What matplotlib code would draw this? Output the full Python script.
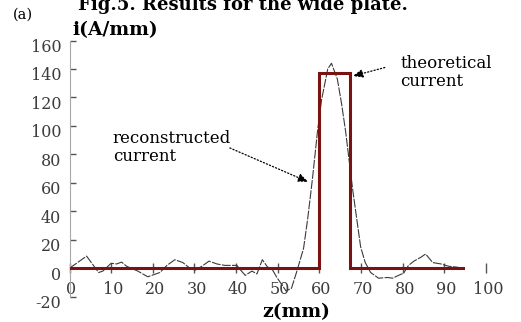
import numpy as np
import matplotlib
matplotlib.use('Agg')
import matplotlib.pyplot as plt
from matplotlib.transforms import ScaledTranslation

plt.rcParams['font.family'] = ['DejaVu Serif']
plt.rcParams['axes.unicode_minus'] = False

# theoretical current (step)
theo_z = [0, 59.8, 59.8, 67.3, 67.3, 94.5]
theo_i = [0, 0, 137, 137, 0, 0]

# reconstructed current
recon_z = [0, 4.1, 7, 8, 10, 11.3, 12.5, 13.7, 16.4, 18.8, 21.7, 23.4, 25.3, 27.2,
           28.9, 30.1, 31.8, 33.5, 35.4, 37.3, 40.2, 41, 42.2, 43.8, 45, 46.3, 47.5,
           48.7, 49.8, 52, 53.3, 54.6, 56.2, 57.2, 58.3, 59.5, 60.5, 62, 62.9, 64.3,
           65.3, 66.3, 68, 69.9, 71, 72.3, 74.2, 76.4, 77.6, 79, 80.2, 81.4, 82.7,
           84.3, 85.5, 87.2, 89.2, 91, 93.2, 94.5]
recon_i = [0, 8.5, -3, -2, 3.5, 3, 4.3, 1.4, -2, -6, -3, 2, 6, 4,
           0, -1.5, 1.4, 5, 3, 2, 2, -1, -5, -2, -4, 6, 1,
           -1, -6.5, -16, -14, -2, 14, 35, 62, 95, 118, 140, 144, 133,
           116, 96, 55, 15, 4, -3, -7, -6.5, -7, -5, -3.5, 2, 5,
           7.6, 10, 4, 3, 1.4, 0.7, -0.7]

xticks = [0, 10, 20, 30, 40, 50, 60, 70, 80, 90, 100]
yticks = [-20, 0, 20, 40, 60, 80, 100, 120, 140, 160]

W, H = 521, 322
fig = plt.figure(figsize=(W / 100, H / 100), dpi=100)
ax = fig.add_axes([69.5 / W, 25.3 / H, 416.5 / W, 256.2 / H])

ax.plot(recon_z, recon_i, color='#3a3a3a', lw=0.8, ls=(0, (8, 1.2)), zorder=2)
ax.plot(theo_z, theo_i, color='#7a1212', lw=2.2, solid_joinstyle='miter', zorder=3)

ax.set_xlim(0, 100)
ax.set_ylim(-20, 160)
ax.set_xticks(xticks)
ax.set_yticks(yticks)

for s in ['top', 'right']:
    ax.spines[s].set_visible(False)
ax.spines['left'].set_color('#a8a8a8')
ax.spines['bottom'].set_position(('data', 0))
ax.spines['bottom'].set_visible(False)

ax.tick_params(axis='y', direction='in', length=4, width=1, color='#555555',
               labelsize=11.5, pad=6, labelcolor='#3c3c3c')
ax.tick_params(axis='x', direction='inout', length=7, width=1, color='#555555',
               labelsize=11.5, pad=6, labelcolor='#3c3c3c')

# labels in the scan sit a little below their ticks
off = ScaledTranslation(0, -5 / 100, fig.dpi_scale_trans)
for lab in ax.get_yticklabels():
    lab.set_transform(lab.get_transform() + off)
offx = ScaledTranslation(2 / 100, 0, fig.dpi_scale_trans)
for lab in ax.get_xticklabels():
    lab.set_transform(lab.get_transform() + offx)

fig.text(72 / W, 1 - 30 / H, 'i(A/mm)', fontsize=13.5, fontweight='bold', va='center', ha='left')
fig.text(296 / W, 1 - 312 / H, 'z(mm)', fontsize=13.5, fontweight='bold', va='center', ha='center')
fig.text(13 / W, 1 - 15 / H, '(a)', fontsize=10.5, va='center', ha='left')
fig.text(243 / W, 1 - 10 / H, 'Fig.5. Results for the wide plate.', fontsize=13,
         fontweight='bold', va='baseline', ha='center')

# annotations
ax.text(79.4, 137.5, 'theoretical\ncurrent', fontsize=12, va='center', ha='left', linespacing=1.1)
ax.annotate('', xy=(68, 135), xytext=(75.7, 141),
            arrowprops=dict(arrowstyle='-|>,head_length=0.6,head_width=0.25',
                            ls=':', lw=0.9, color='k', shrinkA=0, shrinkB=0))
ax.text(10.4, 85, 'reconstructed\ncurrent', fontsize=12, va='center', ha='left', linespacing=1.1)
ax.annotate('', xy=(57.3, 60.7), xytext=(38.5, 84.5),
            arrowprops=dict(arrowstyle='-|>,head_length=0.6,head_width=0.25',
                            ls=':', lw=0.9, color='k', shrinkA=0, shrinkB=0))

fig.savefig('out.png', dpi=100)
